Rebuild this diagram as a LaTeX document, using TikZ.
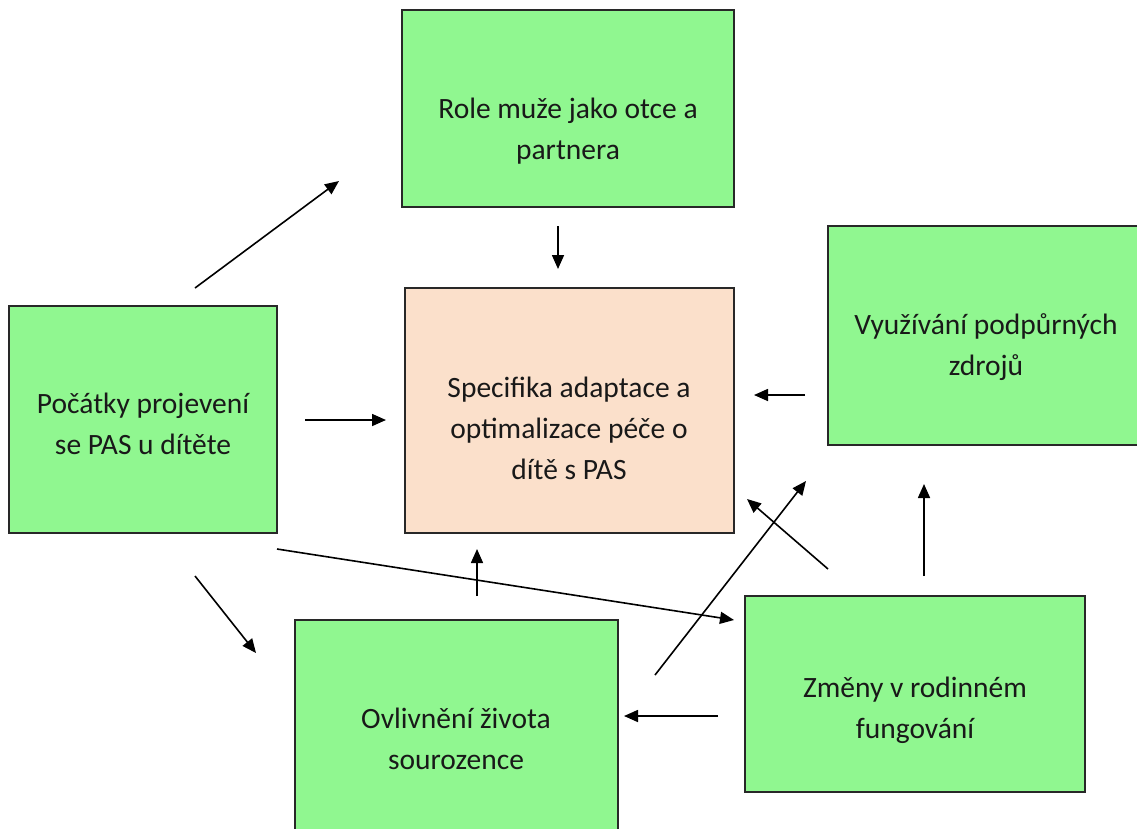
\documentclass[tikz,border=0pt]{standalone}
\usepackage{fontspec}
\setmainfont{Carlito}
\usetikzlibrary{arrows.meta}
\definecolor{boxgreen}{RGB}{144,247,144}
\definecolor{boxpeach}{RGB}{251,224,203}
\definecolor{edge}{RGB}{40,40,40}
\begin{document}
\begin{tikzpicture}[x=1pt,y=-1pt,
  gbox/.style={draw=edge, line width=1.2pt, fill=boxgreen, inner sep=0pt},
  pbox/.style={draw=edge, line width=1.2pt, fill=boxpeach, inner sep=0pt},
  lbl/.style={align=center, font=\fontsize{29.5}{41}\selectfont, inner sep=0pt, text=black!90},
  conn/.style={line width=1.6pt, -{Triangle[length=14pt,width=12pt]}}]
\useasboundingbox (0,0) rectangle (1137,828);
\fill[white] (0,0) rectangle (1137,828);
% boxes
\node[gbox, minimum width=332pt, minimum height=197pt] (role) at (568,108.5) {};
\node[pbox, minimum width=329pt, minimum height=245pt] (spec) at (569.5,410.5) {};
\node[gbox, minimum width=268pt, minimum height=227pt] (poc) at (143,419.5) {};
\node[gbox, minimum width=317pt, minimum height=219pt] (vyu) at (986.5,335.5) {};
\node[gbox, minimum width=323pt, minimum height=240pt] (ovl) at (456.5,740) {};
\node[gbox, minimum width=340pt, minimum height=196pt] (zme) at (915,694) {};
% labels
\node[lbl] (roleT) at (568,131) {Role muže jako otce a\\partnera};
\node[lbl] (specT) at (569,428) {Specifika adaptace a\\optimalizace péče o\\dítě s PAS};
\node[lbl] (pocT) at (143,424) {Počátky projevení\\se PAS u dítěte};
\node[lbl] (vyuT) at (986,347) {Využívání podpůrných\\zdrojů};
\node[lbl] (ovlT) at (456,739) {Ovlivnění života\\sourozence};
\node[lbl] (zmeT) at (915,710) {Změny v rodinném\\fungování};
% connector end points
\coordinate (a1s) at (195,288); \coordinate (a1e) at (339,181);
\coordinate (a2s) at (558,226); \coordinate (a2e) at (558,269);
\coordinate (a3s) at (305,420); \coordinate (a3e) at (386,420);
\coordinate (a4s) at (805,395); \coordinate (a4e) at (754,395);
\coordinate (a5s) at (195,576); \coordinate (a5e) at (256,653);
\coordinate (a6s) at (477,596); \coordinate (a6e) at (477,549);
\coordinate (a7s) at (277,549); \coordinate (a7e) at (734,620);
\coordinate (a8s) at (828,569); \coordinate (a8e) at (747,499);
\coordinate (a9s) at (655,675); \coordinate (a9e) at (806,481);
\coordinate (a10s) at (718,716); \coordinate (a10e) at (624,716);
\coordinate (a11s) at (924,576); \coordinate (a11e) at (924,484);
% connectors
\draw[conn] (a1s) -- (a1e);
\draw[conn] (a2s) -- (a2e);
\draw[conn] (a3s) -- (a3e);
\draw[conn] (a4s) -- (a4e);
\draw[conn] (a5s) -- (a5e);
\draw[conn] (a6s) -- (a6e);
\draw[conn] (a7s) -- (a7e);
\draw[conn] (a8s) -- (a8e);
\draw[conn] (a9s) -- (a9e);
\draw[conn] (a10s) -- (a10e);
\draw[conn] (a11s) -- (a11e);
\end{tikzpicture}
\end{document}
